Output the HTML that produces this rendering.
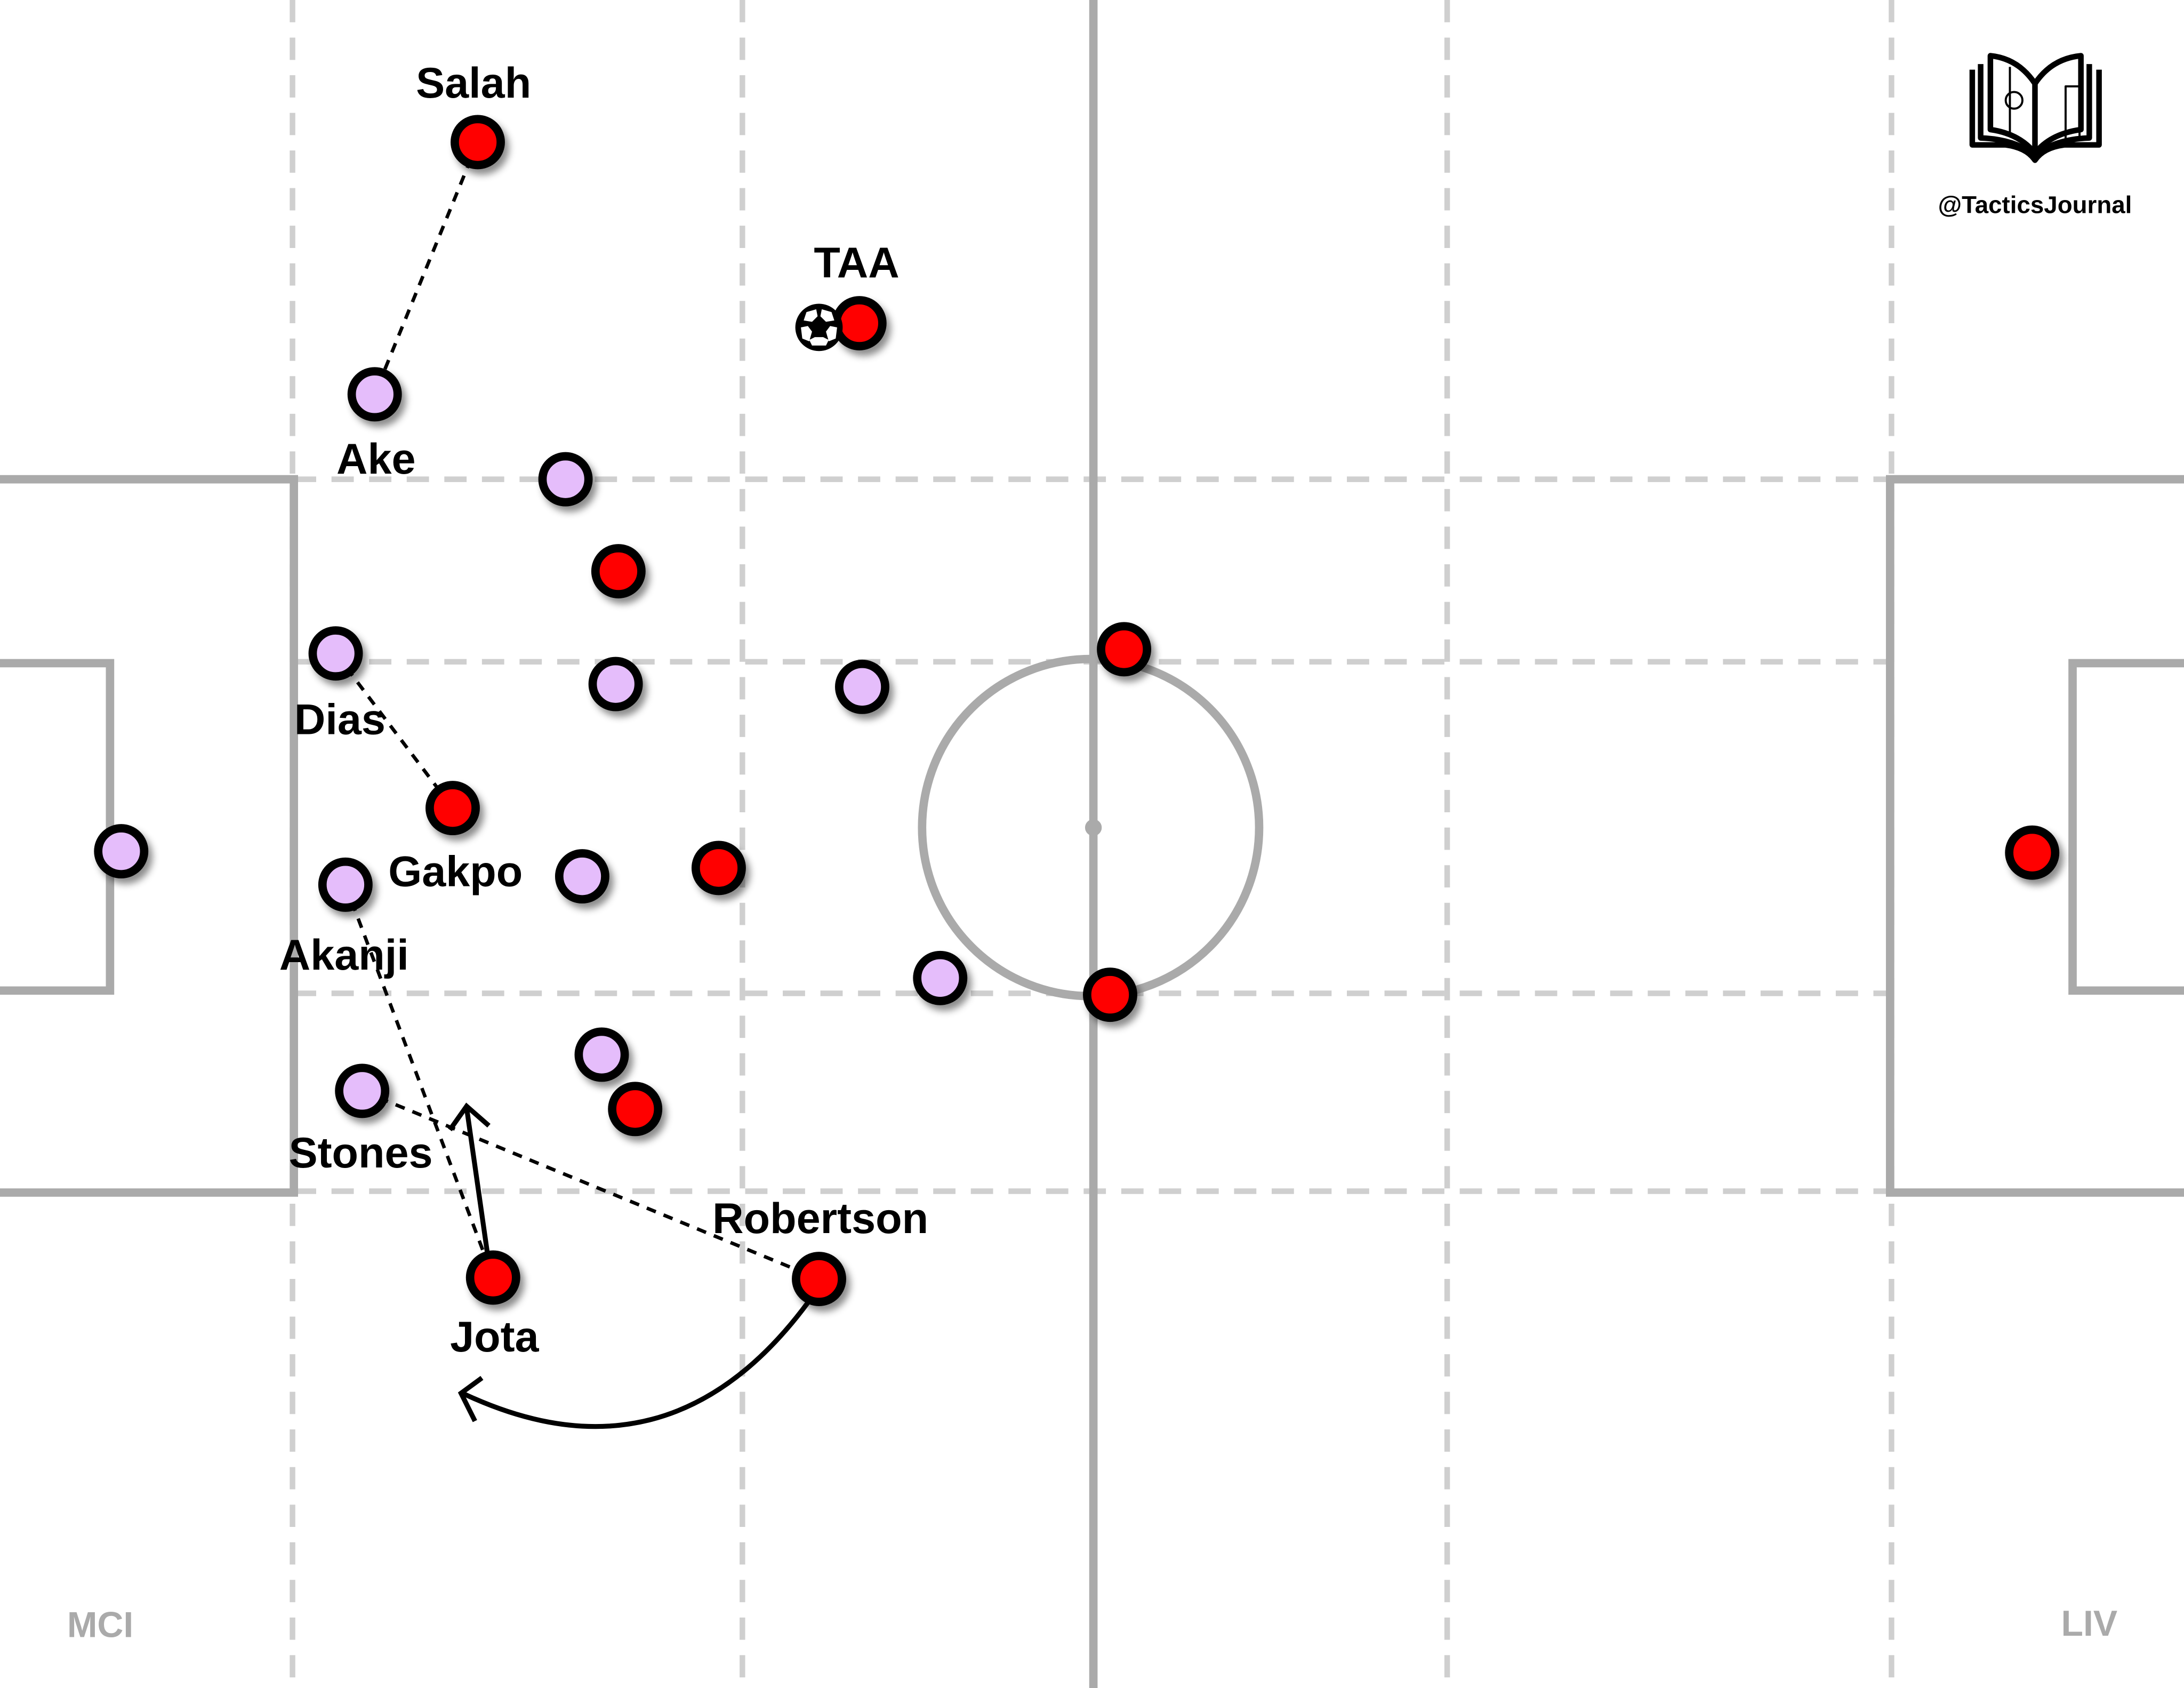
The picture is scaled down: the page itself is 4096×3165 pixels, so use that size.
<!DOCTYPE html>
<html><head><meta charset="utf-8"><style>
html,body{margin:0;padding:0;background:#fff;}
svg{display:block;}
text{font-family:"Liberation Sans",Arial,sans-serif;font-weight:bold;}
</style></head><body>
<svg id="pitch" width="4096" height="3165" viewBox="0 0 1568 1211.6" preserveAspectRatio="none" xmlns="http://www.w3.org/2000/svg">
<defs>
<filter id="sh" x="-50%" y="-50%" width="200%" height="200%"><feDropShadow dx="3" dy="4" stdDeviation="2.5" flood-color="#000" flood-opacity="0.45"/></filter>
</defs>
<rect width="1568" height="1212" fill="#fff"/>
<g id="grid" stroke="#cfcfcf" stroke-width="4" stroke-dasharray="16 11" fill="none">
<line x1="210" y1="0" x2="210" y2="1212"/>
<line x1="533" y1="0" x2="533" y2="1212"/>
<line x1="1039" y1="0" x2="1039" y2="1212"/>
<line x1="1358" y1="0" x2="1358" y2="1212"/>
<line x1="211" y1="344" x2="1357" y2="344"/>
<line x1="211" y1="475" x2="1357" y2="475"/>
<line x1="211" y1="713" x2="1357" y2="713"/>
<line x1="211" y1="855" x2="1357" y2="855"/>
</g>
<g id="lines" stroke="#aaa" stroke-width="6" fill="none">
<line x1="785" y1="0" x2="785" y2="1212"/>
<circle cx="783" cy="594" r="121"/>
<circle cx="785" cy="594" r="3" fill="#aaa"/>
<path d="M0 344 H211 V856 H0"/>
<path d="M0 476 H79 V711 H0"/>
<path d="M1568 344 H1357 V856 H1568"/>
<path d="M1568 476 H1488 V711 H1568"/>
</g>
<text x="72" y="1175" font-size="26" fill="#aaa" text-anchor="middle">MCI</text>
<text x="1500" y="1174" font-size="26" fill="#aaa" text-anchor="middle">LIV</text>
<g id="links" stroke="#000" stroke-width="2.5" stroke-dasharray="7 6" fill="none">
<line x1="343" y1="102" x2="269" y2="283"/>
<line x1="241" y1="469" x2="325" y2="580"/>
<line x1="248" y1="635" x2="354" y2="917"/>
<line x1="260" y1="783" x2="588" y2="918"/>
</g>
<g id="runs" stroke="#000" stroke-width="3.5" fill="none">
<line x1="350" y1="900" x2="335" y2="795"/>
<path d="M323 811 L335 794 L351 808"/>
<path d="M580 935 Q480 1070 332 1000"/>
<path d="M346 989 L331 1000 L341 1020"/>
</g>
<g id="players"></g>
<g id="ball" transform="translate(588,235)">
<circle r="17" fill="#000"/>
<g fill="#fff">
<polygon points="-2,-13 -9,-11 -11,-5 -5,-4 -1,-8"/>
<polygon points="2,-13 9,-11 11,-5 5,-4 1,-8"/>
<polygon points="-13,0 -12,8 -7,10 -5,3 -8,-1"/>
<polygon points="13,0 12,8 7,10 5,3 8,-1"/>
<polygon points="-5,13 5,13 7,9 3,7 -3,7 -7,9"/>
</g>
</g>
<g id="logo" fill="none" stroke="#000" stroke-width="4" stroke-linejoin="round">
<path d="M1416 50 V104 H1440 Q1455 106 1461 115 Q1467 106 1482 104 H1507 V50"/>
<path d="M1422 46 V99 Q1448 100 1461 112 Q1474 100 1500 99 V46"/>
<path d="M1429 40 V93 Q1450 96 1461 110 Q1472 96 1494 93 V40 Q1473 42 1461 60 Q1449 42 1429 40 Z"/>
<line x1="1461" y1="60" x2="1461" y2="110"/>
<line x1="1443" y1="48" x2="1443" y2="98" stroke-width="1.5"/>
<circle cx="1446" cy="72" r="6" stroke-width="1.5"/>
<rect x="1483" y="62" width="10" height="38" stroke-width="1.5"/>
</g>
<text x="1461" y="153" font-size="17.5" text-anchor="middle">@TacticsJournal</text>
</svg>
<script>
const playerX = [343,617,444,807,325,516,797,456,354,588,1459, 269,406,241,442,619,87,248,418,675,432,260];
const playerY = [102,232,410,466,580,623,714,796,917,918,612, 283,344,469,491,493,611,635,629,702,757,783];
const playerTeam = ["LIV","LIV","LIV","LIV","LIV","LIV","LIV","LIV","LIV","LIV","LIV","MCI","MCI","MCI","MCI","MCI","MCI","MCI","MCI","MCI","MCI","MCI"];
const playerName = ["Salah","TAA","","","Gakpo","","","","Jota","Robertson","","Ake","","Dias","","","","Akanji","","","","Stones"];
const labelDX = [-3,-2,0,0,2,0,0,0,1,1,0,1,0,3,0,0,0,-1,0,0,0,-1];
const labelDY = [-32,-33,0,0,56,0,0,0,53,-33,0,57,0,58,0,0,0,61,0,0,0,55];
const NS = "http://www.w3.org/2000/svg";
const g = document.getElementById('players');
for (let i = 0; i < playerX.length; i++) {
  const c = document.createElementNS(NS, 'circle');
  
  
  c.setAttribute('cx', playerX[i]); c.setAttribute('cy', playerY[i]);
  c.setAttribute('r', 16.5);
  c.setAttribute('fill', playerTeam[i] === 'LIV' ? '#ff0000' : '#e5bdfb');
  c.setAttribute('stroke', '#000'); c.setAttribute('stroke-width', 6);
  c.setAttribute('filter', 'url(#sh)');
  g.appendChild(c);
  if (playerName[i]) {
    const t = document.createElementNS(NS, 'text');
    
    
    t.setAttribute('x', playerX[i] + labelDX[i]);
    t.setAttribute('y', playerY[i] + labelDY[i]);
    t.setAttribute('font-size', 31);
    t.setAttribute('text-anchor', 'middle');
    t.textContent = playerName[i];
    g.appendChild(t);
  }
}
document.getElementById('pitch').appendChild(document.getElementById('ball'));
</script>
</body></html>
